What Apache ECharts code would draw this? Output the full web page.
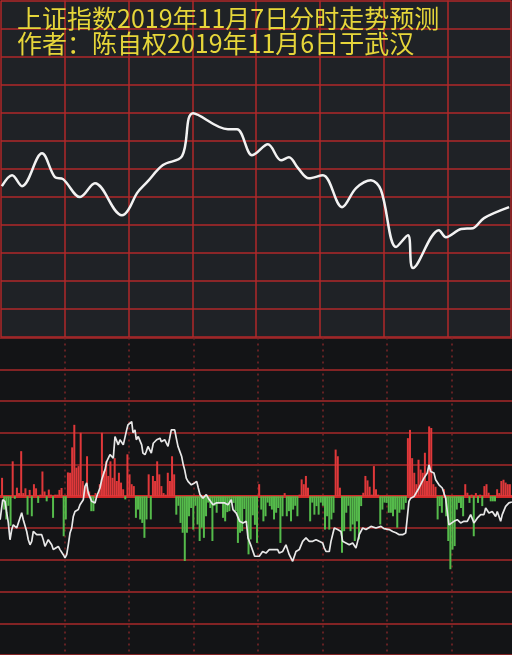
<!DOCTYPE html>
<html>
<head>
<meta charset="utf-8">
<script src="https://cdn.jsdelivr.net/npm/echarts@6/dist/echarts.min.js"></script>
<style>html,body{margin:0;padding:0;background:#131416;}#c{width:512px;height:655px;}</style>
</head>
<body>
<div id="c"></div>
<script>
const titleLines = ['上证指数2019年11月7日分时走势预测', '作者：陈自权2019年11月6日于武汉'];

// Top panel: predicted intraday index curve (minutes 0-240, grid units)
const topTimes = [0.4, 5.2, 9.9, 19.3, 25.4, 29.2, 37.2, 44.2, 56.9, 59.8, 64.0, 68.7, 76.2, 85.2, 90.4, 106.8, 111.1, 118.1, 120.0, 125.6, 131.8, 135.5, 139.8, 144.9, 151.5, 160.5, 167.1, 174.1, 178.8, 185.9, 191.5, 193.9, 206.1, 209.4, 216.5, 222.1, 227.3, 239.1];
const topValues = [5.38, 5.77, 5.38, 6.55, 5.70, 5.63, 4.99, 5.48, 4.34, 4.52, 5.13, 5.52, 6.13, 6.45, 7.98, 7.41, 7.41, 6.48, 6.55, 6.87, 6.30, 6.41, 6.02, 5.66, 5.77, 4.63, 5.31, 5.59, 5.24, 3.21, 3.63, 2.46, 3.81, 3.56, 3.85, 3.88, 4.24, 4.63];

// Bottom panel: per-minute bars (red up / green down)
const flowBars = [
 0.58,-0.42,-0.73,-0.3,-0.93,1.1,-0.08,0.27,0.1,1.42,
 0.1,0.25,-0.58,0.2,-0.63,0.38,0.25,-0.21,0.05,0.78,
 0.15,-0.16,0.21,0.05,-0.68,0.05,0.05,0.2,0.26,-1.26,
 -0.73,0.75,0.74,1.54,2.25,0.9,0.95,2.0,0.48,0.3,
 1.26,0.15,-0.47,-0.47,0.1,0.05,0.38,2.0,0.8,1.1,
 0.64,1.1,0.58,1.2,0.48,0.74,0.43,0.22,-0.1,1.32,
 0.69,0.38,0.32,-0.68,-0.42,-0.73,-0.84,-1.31,-0.73,0.69,
 -0.73,0.64,0.48,1.1,0.69,0.32,0.1,0.05,0.74,0.48,
 1.26,0.69,-0.58,-0.3,-0.84,-1.15,-2.04,-1.15,-0.63,-0.37,
 -1.05,-0.3,-0.89,-1.41,-0.99,-1.31,-0.63,-0.2,-0.37,-1.41,
 -0.3,-0.52,-0.2,-0.21,-0.68,-0.79,-0.5,-0.47,-0.21,-0.21,
 -0.47,-1.47,-1.15,-1.1,-0.4,-0.84,-1.83,-1.36,-0.6,-0.9,
 -1.47,0.38,-0.42,-0.79,-0.63,-0.2,-0.31,-0.42,-0.73,-0.52,
 -0.37,-1.47,-0.63,0.1,-0.63,-0.47,-0.79,-0.42,-0.3,-0.63,
 0.05,0.53,0.38,0.64,0.27,-0.79,-0.2,-0.58,-0.31,-0.58,
 -0.2,-0.3,-1.05,-0.63,-1.05,-0.73,-0.52,1.47,1.26,0.27,
 -1.78,-1.1,-0.52,-0.3,-1.1,-0.89,-1.41,-0.79,-1.36,-0.31,
 0.11,0.64,0.5,0.3,0.05,0.95,0.22,0.05,-0.89,-0.42,
 -0.2,-0.21,-0.52,-0.52,-0.63,-0.42,-0.99,-0.52,-0.42,-0.42,
 -0.21,1.83,2.09,1.2,0.74,0.38,1.15,0.84,0.74,1.37,
 0.48,2.2,2.15,0.38,0.3,-0.73,-0.31,-0.52,0.22,-0.63,
 -1.41,-2.3,-1.68,-1.57,-0.42,-0.21,-0.37,-0.63,0.38,0.11,
 -0.21,0.05,-1.26,0.1,-0.21,0.05,-0.31,0.32,0.38,0.11,
 -0.16,-0.16,-0.16,0.22,0.1,0.48,0.52,0.43,0.38,0.38
];

// Bottom panel: white line (minute position, value)
const flowLineTimes = [-0.9,0.30,1.38,2.18,2.94,3.74,4.54,5.29,6.09,6.89,7.64,9.24,9.99,10.80,11.60,12.35,13.15,13.95,14.70,15.50,16.30,17.05,18.65,19.41,20.21,21.01,21.76,22.56,23.36,24.11,24.91,26.47,27.27,28.82,29.62,30.42,31.17,31.97,32.77,33.52,34.33,35.12,35.88,36.68,37.48,38.23,39.03,39.83,40.58,41.38,42.18,42.94,43.74,44.54,45.29,46.09,46.89,47.64,48.44,49.24,50.80,52.35,53.15,54.70,55.50,57.05,58.65,59.27,60.21,61.01,61.62,62.56,63.17,64.11,65.71,66.30,67.27,67.88,68.68,69.62,70.23,71.17,71.83,72.77,73.38,74.33,74.94,75.88,76.54,78.09,78.89,79.64,81.24,82.00,82.80,83.74,84.54,85.29,85.95,86.70,87.50,89.06,90.65,91.60,92.35,93.15,94.56,96.12,97.06,99.27,100.82,102.42,104.77,106.33,107.88,108.68,110.23,111.83,113.38,114.94,115.74,117.29,118.89,119.50,121.06,122.63,124.21,125.76,127.36,128.11,129.71,130.47,132.07,133.62,135.17,136.77,138.33,139.88,141.48,143.03,144.59,146.19,147.74,149.29,150.89,151.65,152.45,154.00,154.80,156.35,157.95,159.50,160.30,161.85,163.41,165.01,166.56,167.36,168.11,169.71,171.27,173.62,175.97,178.33,179.74,182.24,183.84,185.39,186.94,188.54,189.16,189.95,190.70,191.50,192.30,193.86,194.66,196.21,197.76,198.56,200.12,200.92,201.72,203.27,204.07,205.62,207.18,207.97,208.77,209.52,210.32,211.12,212.68,214.23,215.83,217.38,218.94,220.54,222.09,223.64,225.24,226.80,227.60,229.15,230.70,232.30,233.06,234.66,235.41,237.01,238.56,239.97];
const flowLineValues = [-0.74,-0.11,-0.16,-0.52,-0.83,-1.37,-1.05,-0.90,-0.95,-1.00,-1.00,-0.52,-0.74,-0.79,-1.11,-1.37,-1.53,-1.42,-1.11,-1.05,-1.21,-1.21,-1.21,-1.37,-1.58,-1.63,-1.37,-1.42,-1.53,-1.68,-1.63,-1.58,-1.68,-1.84,-1.94,-1.84,-1.53,-1.16,-1.00,-0.64,-0.48,-0.53,-0.42,-0.27,-0.21,-0.11,0.31,0.42,0.10,0.05,-0.16,-0.11,-0.21,-0.01,0.05,0.26,0.52,0.68,0.83,1.09,1.31,1.20,1.88,1.62,1.78,1.62,2.09,2.25,2.30,2.35,2.00,2.09,1.78,1.88,1.62,1.36,1.31,1.41,1.57,1.62,1.36,1.67,1.72,1.78,1.83,1.83,1.72,1.67,1.78,1.57,1.83,2.09,2.09,1.83,1.57,1.52,1.25,0.99,0.83,0.57,0.47,0.36,0.42,0.47,0.26,0.05,-0.06,0.05,-0.06,-0.27,-0.21,-0.21,-0.21,-0.27,-0.11,-0.42,-0.53,-0.79,-0.84,-0.79,-1.31,-1.58,-1.89,-1.84,-1.89,-1.74,-1.79,-1.68,-1.68,-1.74,-1.68,-1.79,-1.74,-1.53,-1.84,-2.05,-1.74,-1.68,-1.42,-1.31,-1.42,-1.42,-1.37,-1.42,-1.47,-1.63,-1.74,-1.74,-1.42,-1.00,-1.05,-1.11,-1.42,-1.47,-1.53,-1.47,-1.63,-1.42,-1.21,-1.00,-1.05,-0.95,-1.00,-0.95,-1.02,-1.05,-1.11,-1.15,-1.21,-1.21,-1.26,-1.16,-0.69,-0.16,-0.06,-0.01,0.05,0.26,0.47,0.57,0.73,0.99,0.78,0.73,0.52,0.36,0.26,0.10,-0.06,-0.48,-0.90,-0.95,-0.79,-0.74,-0.84,-0.79,-0.79,-0.58,-0.84,-0.69,-0.58,-0.58,-0.37,-0.53,-0.48,-0.64,-0.48,-0.79,-0.58,-0.32,-0.21,-0.18];

const gridRed = '#b0282a';
const titleStyle = {color: '#e6d63a', fontSize: 25, fontWeight: 'normal', fontFamily: 'Noto Sans CJK SC'};
const chart = echarts.init(document.getElementById('c'), null, {renderer: 'canvas'});
chart.setOption({
  animation: false,
  backgroundColor: '#131416',
  title: [
    {text: titleLines[0], left: 17, top: 6, padding: 0, textStyle: titleStyle},
    {text: titleLines[1], left: 17, top: 31, padding: 0, textStyle: titleStyle}
  ],
  grid: [
    {left: 1, right: 1, top: 0.5, height: 336.5, show: true, backgroundColor: '#1f2226', borderWidth: 0, z: -1},
    {left: 0, right: 0, top: 337.5, height: 318, show: true, backgroundColor: '#131416', borderWidth: 0, z: -1}
  ],
  xAxis: [
    {gridIndex: 0, type: 'value', min: 0, max: 240, interval: 30,
     axisLine: {show: false}, axisTick: {show: false}, axisLabel: {show: false},
     splitLine: {show: true, lineStyle: {color: gridRed, width: 1.5}}},
    {gridIndex: 1, type: 'value', min: -0.97, max: 240,
     axisLine: {show: true, onZero: true, lineStyle: {color: '#d02a2a', width: 3}},
     axisTick: {show: false}, axisLabel: {show: false}, splitLine: {show: false}},
    {gridIndex: 1, type: 'value', min: 0, max: 238, interval: 30, position: 'top',
     axisLine: {show: false}, axisTick: {show: false}, axisLabel: {show: false},
     splitLine: {show: true, showMinLine: false, showMaxLine: false,
                 lineStyle: {color: '#7e2628', width: 1.5, type: [2, 4]}}}
  ],
  yAxis: [
    {gridIndex: 0, type: 'value', min: 0, max: 12, interval: 1,
     axisLine: {show: false}, axisTick: {show: false}, axisLabel: {show: false},
     splitLine: {show: true, lineStyle: {color: gridRed, width: 1.5}}},
    {gridIndex: 1, type: 'value', min: -5, max: 5, interval: 1,
     axisLine: {show: false}, axisTick: {show: false}, axisLabel: {show: false},
     splitLine: {show: true, lineStyle: {color: '#a8282a', width: 1.5}}}
  ],
  series: [
    {type: 'line', xAxisIndex: 0, yAxisIndex: 0, smooth: 0.35, showSymbol: false,
     data: topTimes.map((t, i) => [t, topValues[i]]),
     lineStyle: {color: '#f2f2f2', width: 2.5}},
    {type: 'bar', xAxisIndex: 1, yAxisIndex: 1, barWidth: 2,
     data: flowBars.map((v, i) => [i, v]),
     itemStyle: {color: p => p.value[1] >= 0 ? '#e0383a' : '#55bb4b'}},
    {type: 'line', xAxisIndex: 1, yAxisIndex: 1, showSymbol: false, z: 5,
     data: flowLineTimes.map((t, i) => [t, flowLineValues[i]]),
     lineStyle: {color: '#e8e8e8', width: 1.7}}
  ]
});
</script>
</body>
</html>
